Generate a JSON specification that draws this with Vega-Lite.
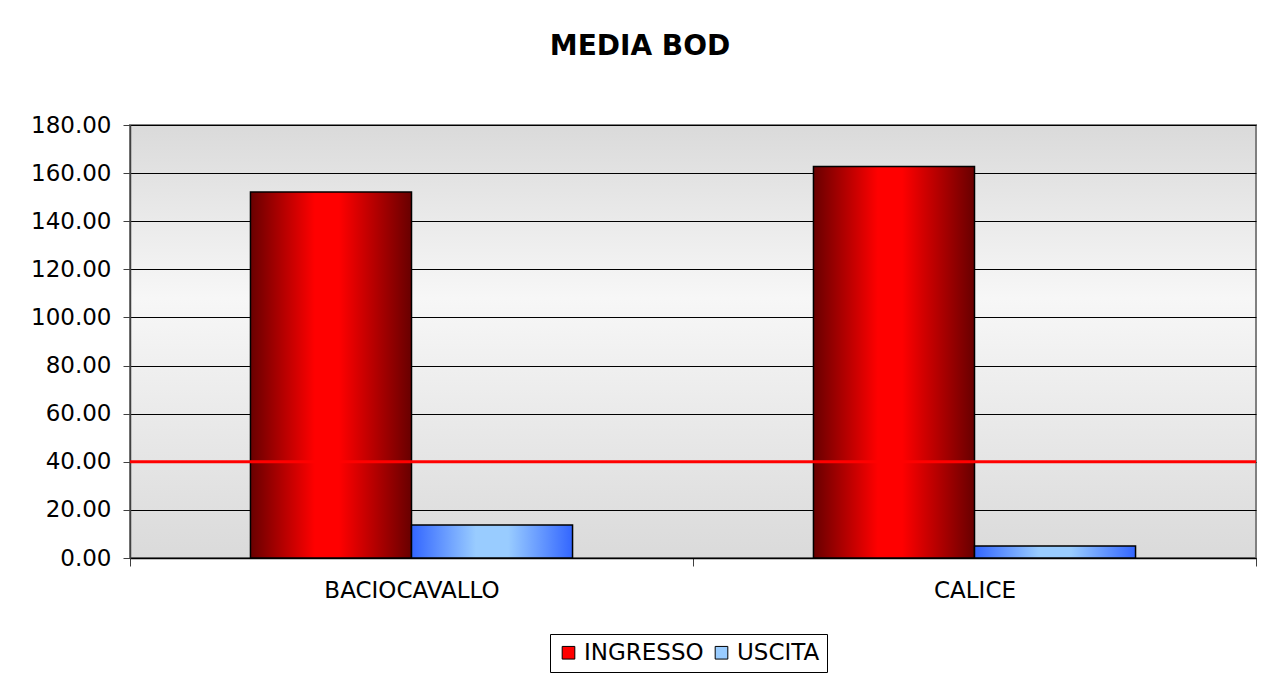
{
  "$schema": "https://vega.github.io/schema/vega-lite/v6.json",
  "autosize": {"type": "none"},
  "width": 1126,
  "height": 433,
  "padding": {"left": 130, "top": 125, "right": 12, "bottom": 119},
  "background": "white",
  "title": {
    "text": "MEDIA BOD",
    "font": "DejaVu Sans",
    "fontSize": 28,
    "fontWeight": "bold",
    "color": "black",
    "anchor": "middle",
    "frame": "group",
    "dx": -53,
    "baseline": "alphabetic",
    "offset": 31
  },
  "config": {
    "view": {
      "stroke": "#808080",
      "strokeWidth": 2,
      "fill": {
        "gradient": "linear",
        "x1": 0, "x2": 0, "y1": 0, "y2": 1,
        "stops": [
          {"offset": 0, "color": "#dadada"},
          {"offset": 0.4, "color": "#f7f7f7"},
          {"offset": 1, "color": "#dadada"}
        ]
      }
    },
    "font": "DejaVu Sans"
  },
  "data": {
    "values": [
      {"site": "BACIOCAVALLO", "series": "INGRESSO", "value": 152.1},
      {"site": "BACIOCAVALLO", "series": "USCITA", "value": 13.7},
      {"site": "CALICE", "series": "INGRESSO", "value": 162.8},
      {"site": "CALICE", "series": "USCITA", "value": 5.0}
    ]
  },
  "encoding": {
    "x": {
      "field": "site",
      "type": "nominal",
      "sort": ["BACIOCAVALLO", "CALICE"],
      "scale": {"paddingInner": 0, "paddingOuter": 0},
      "axis": {
        "title": null,
        "labelAngle": 0,
        "labelFont": "DejaVu Sans",
        "labelFontSize": 23,
        "labelColor": "black",
        "labelPadding": 13,
        "tickBand": "extent",
        "tickSize": 8,
        "tickColor": "#404040",
        "domainColor": "black",
        "domainWidth": 1.5,
        "grid": false
      }
    },
    "xOffset": {
      "field": "series",
      "type": "nominal",
      "sort": ["INGRESSO", "USCITA"],
      "scale": {"paddingInner": 0, "paddingOuter": 0.748}
    },
    "y": {
      "field": "value",
      "type": "quantitative",
      "scale": {"domain": [0, 180], "nice": false},
      "axis": {
        "title": null,
        "values": [0, 20, 40, 60, 80, 100, 120, 140, 160, 180],
        "format": ".2f",
        "labelFont": "DejaVu Sans",
        "labelFontSize": 23,
        "labelColor": "black",
        "labelPadding": 12,
        "tickSize": 7,
        "tickColor": "#404040",
        "domainColor": "#404040",
        "domainWidth": 1.5,
        "grid": true,
        "gridColor": "black",
        "gridWidth": 1,
        "gridOpacity": 1
      }
    }
  },
  "layer": [
    {
      "transform": [{"filter": "datum.series === 'INGRESSO'"}],
      "mark": {
        "type": "bar",
        "stroke": "black",
        "strokeWidth": 1.5,
        "fill": {
          "gradient": "linear",
          "x1": 0, "x2": 1, "y1": 0, "y2": 0,
          "stops": [
            {"offset": 0, "color": "#680000"},
            {"offset": 0.4, "color": "#ff0000"},
            {"offset": 0.55, "color": "#ff0000"},
            {"offset": 1, "color": "#680000"}
          ]
        }
      }
    },
    {
      "transform": [{"filter": "datum.series === 'USCITA'"}],
      "mark": {
        "type": "bar",
        "stroke": "black",
        "strokeWidth": 1.5,
        "fill": {
          "gradient": "linear",
          "x1": 0, "x2": 1, "y1": 0, "y2": 0,
          "stops": [
            {"offset": 0, "color": "#3366ff"},
            {"offset": 0.4, "color": "#99ccff"},
            {"offset": 0.6, "color": "#99ccff"},
            {"offset": 1, "color": "#3366ff"}
          ]
        }
      }
    },
    {
      "mark": {"type": "bar", "opacity": 0},
      "encoding": {
        "fill": {
          "field": "series",
          "type": "nominal",
          "sort": ["INGRESSO", "USCITA"],
          "scale": {"domain": ["INGRESSO", "USCITA"], "range": ["#ff0000", "#99ccff"]},
          "legend": {
            "title": null,
            "orient": "none",
            "direction": "horizontal",
            "legendX": 420,
            "legendY": 509,
            "symbolType": "square",
            "symbolSize": 160,
            "symbolOpacity": 1,
            "symbolStrokeColor": "black",
            "symbolStrokeWidth": 1,
            "labelFont": "DejaVu Sans",
            "labelFontSize": 23,
            "labelColor": "black",
            "labelOffset": 4,
            "columnPadding": 6,
            "strokeColor": "black",
            "padding": 7,
            "fillColor": "white"
          }
        }
      }
    },
    {
      "data": {"values": [{"limit": 40}]},
      "mark": {"type": "rule", "color": "#ff0000", "strokeWidth": 3},
      "encoding": {
        "y": {"field": "limit", "type": "quantitative"},
        "x": null,
        "xOffset": null
      }
    }
  ]
}
